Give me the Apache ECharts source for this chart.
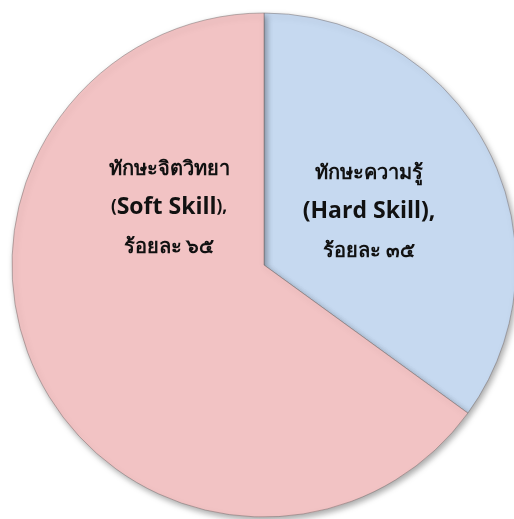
<!DOCTYPE html>
<html><head><meta charset="utf-8">
<script src="https://cdn.jsdelivr.net/npm/echarts@6/dist/echarts.min.js"></script>
<style>html,body{margin:0;padding:0;background:#fff}#c{width:514px;height:519px}</style>
</head><body><div id="c"></div>
<script>
const categories = ['Hard Skill', 'Soft Skill'];
const values = [35, 65];
const thaiNames = ['ทักษะความรู้', 'ทักษะจิตวิทยา'];
const percentLabels = ['ร้อยละ ๓๕', 'ร้อยละ ๖๕'];
const colors = ['#C6D9F0', '#F2C3C4'];

const chart = echarts.init(document.getElementById('c'), null, {renderer: 'canvas'});
const data = categories.map((c, i) => ({
  name: c, value: values[i],
  itemStyle: {color: colors[i]},
  label: {
    formatter: i === 0
      ? '{th|' + thaiNames[i] + '}\n{big|(' + c + '),}\n{pc|' + percentLabels[i] + '}'
      : '{th|' + thaiNames[i] + '}\n{sm|(}{big|' + c + '}{sm|),}\n{pc|' + percentLabels[i] + '}'
  }
}));
const ff = '"Open Sans", "Noto Sans", sans-serif';
const fth = 'Lato, "Noto Sans", sans-serif';
chart.setOption({
  animation: false,
  series: [{
    type: 'pie',
    center: [264, 265],
    radius: [0, 252],
    startAngle: 90,
    clockwise: true,
    data: data,
    itemStyle: {
      borderColor: 'rgba(120,110,110,0.5)',
      borderWidth: 1,
      shadowBlur: 6,
      shadowOffsetX: 2,
      shadowOffsetY: 3,
      shadowColor: 'rgba(0,0,0,0.35)'
    },
    label: {
      position: 'inside',
      color: '#111',
      align: 'center',
      fontFamily: ff,
      rich: {
        th: {fontSize: 20, fontWeight: 'bold', lineHeight: 39, color: '#111', fontFamily: fth},
        big: {fontSize: 23, fontWeight: 'bold', lineHeight: 39, color: '#111', fontFamily: ff},
        sm: {fontSize: 17, fontWeight: 'bold', lineHeight: 39, color: '#111', fontFamily: ff},
        pc: {fontSize: 20, fontWeight: 'bold', lineHeight: 40, color: '#111', fontFamily: fth}
      }
    },
    labelLine: {show: false},
    labelLayout: function (p) {
      return p.dataIndex === 0 ? {x: 369, y: 212} : {x: 169, y: 208};
    },
    emphasis: {disabled: true}
  }]
});
</script></body></html>
